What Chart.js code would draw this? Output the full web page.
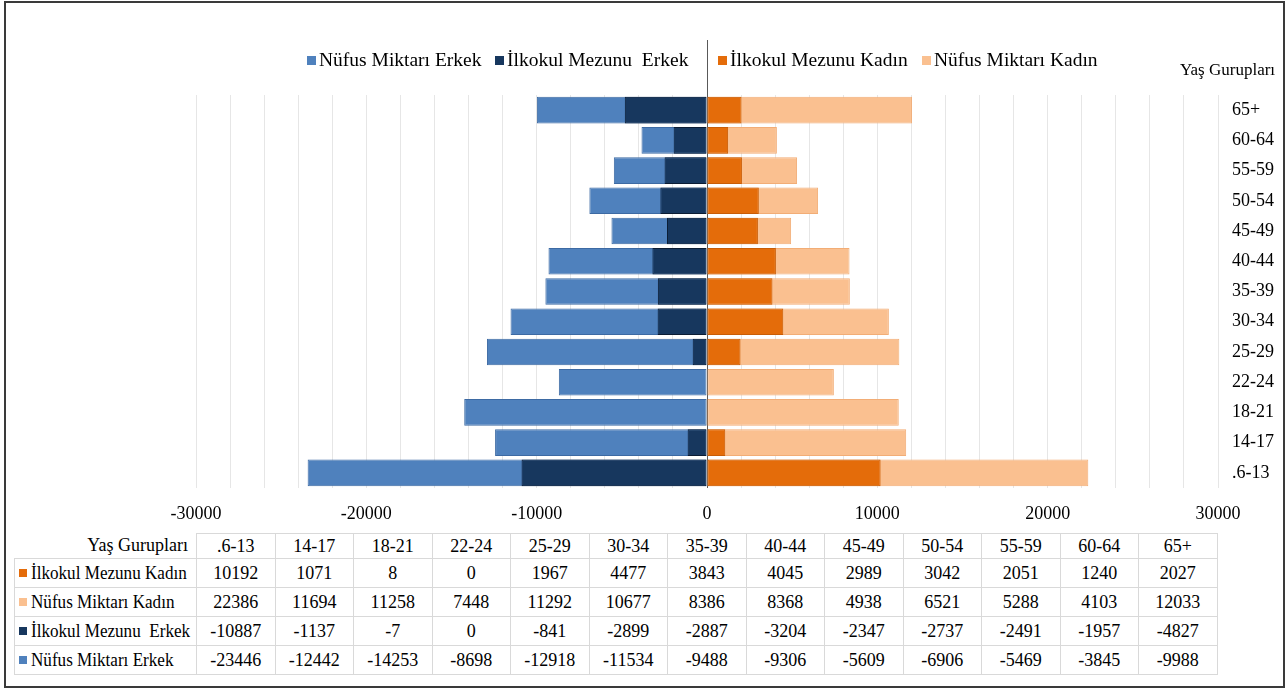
<!DOCTYPE html>
<html>
<head>
<meta charset="utf-8">
<script src="https://cdn.jsdelivr.net/npm/chart.js@4.4.1/dist/chart.umd.min.js"></script>
<style>
  body { margin: 0; background: #fff; font-family: "Liberation Serif", "Times New Roman", Times, "DejaVu Serif", serif; }
  #wrap { position: relative; width: 1288px; height: 689px; overflow: hidden; }
  #frame { position: absolute; left: 4px; top: 1px; width: 1277px; height: 683px; border: 2px solid #3a3a3a; }
  #chartBox { position: absolute; left: 0; top: 0; width: 1288px; height: 530px; }
  .leg { position: absolute; top: 49px; font-size: 19.5px; color: #000; white-space: pre; }
  .leg i { display: inline-block; width: 9px; height: 9px; margin-right: 3px; vertical-align: 1px; }
  #yTitle { position: absolute; left: 1180px; top: 60px; font-size: 17px; }
  #dataTable { position: absolute; left: 14px; top: 533px; width: 1203px; border-collapse: collapse; table-layout: fixed; font-size: 18px; }
  #dataTable td { border: 1px solid #d9d9d9; text-align: center; padding: 0; height: 28px; white-space: nowrap; overflow: hidden; }
  #dataTable tr.head td { height: 24px; }
  #dataTable td.lbl { text-align: left; padding-left: 4px; font-size: 19px; }
  #dataTable td.lbl i { display: inline-block; width: 8px; height: 8px; margin-right: 4px; vertical-align: 2px; }
  #dataTable td.lbl span { display: inline-block; transform: scaleX(0.9); transform-origin: left center; }
  #dataTable td.corner { border: none; text-align: right; padding-right: 8px; }
</style>
</head>
<body>
<div id="wrap">
  <div id="frame"></div>
  <div id="chartBox"><canvas id="pyramid"></canvas></div>
  <div id="legend"></div>
  <div id="yTitle">Yaş Gurupları</div>
  <table id="dataTable"></table>
</div>
<script>
// Age groups and series (as in the data table)
const ageGroups = ['.6-13', '14-17', '18-21', '22-24', '25-29', '30-34', '35-39', '40-44', '45-49', '50-54', '55-59', '60-64', '65+'];
const ilkokulKadin = [10192, 1071, 8, 0, 1967, 4477, 3843, 4045, 2989, 3042, 2051, 1240, 2027];
const nufusKadin = [22386, 11694, 11258, 7448, 11292, 10677, 8386, 8368, 4938, 6521, 5288, 4103, 12033];
const ilkokulErkek = [-10887, -1137, -7, 0, -841, -2899, -2887, -3204, -2347, -2737, -2491, -1957, -4827];
const nufusErkek = [-23446, -12442, -14253, -8698, -12918, -11534, -9488, -9306, -5609, -6906, -5469, -3845, -9988];
const xTicks = [-30000, -20000, -10000, 0, 10000, 20000, 30000];

const serif = '"Liberation Serif", "Times New Roman", Times, "DejaVu Serif", serif';

const colors = {
    nufusErkek: { fill: '#4f81bd', line: '#3d6aa3' },
    ilkokulErkek: { fill: '#17375e', line: '#0b1c33' },
    ilkokulKadin: { fill: '#e46c0a', line: '#c95c05' },
    nufusKadin: { fill: '#fac090', line: '#f2ad76' }
};

// Legend (split around the zero line)
const legendItems = [
    { text: 'Nüfus Miktarı Erkek', c: colors.nufusErkek.fill, x: 307 },
    { text: 'İlkokul Mezunu  Erkek', c: colors.ilkokulErkek.fill, x: 495 },
    { text: 'İlkokul Mezunu Kadın', c: colors.ilkokulKadin.fill, x: 718 },
    { text: 'Nüfus Miktarı Kadın', c: colors.nufusKadin.fill, x: 922 }
];
const legend = document.getElementById('legend');
legendItems.forEach(function(it) {
    const d = document.createElement('div');
    d.className = 'leg';
    d.style.left = it.x + 'px';
    d.innerHTML = '<i style="background:' + it.c + '"></i>' + it.text;
    legend.appendChild(d);
});

// Zero axis line that runs up through the legend
const zeroLine = {
    id: 'zeroLine',
    beforeDatasetsDraw(chart) {
        const x = Math.round(chart.scales.x.getPixelForValue(0)) + 0.5;
        const ctx = chart.ctx;
        ctx.save();
        ctx.strokeStyle = '#595959';
        ctx.lineWidth = 1;
        ctx.beginPath();
        ctx.moveTo(x, 40);
        ctx.lineTo(x, chart.chartArea.bottom);
        ctx.stroke();
        ctx.restore();
    }
};

function bar(label, data, c) {
    return {
        label: label,
        data: data,
        backgroundColor: c.fill,
        borderColor: c.line,
        borderWidth: 1,
        borderSkipped: false,
        grouped: false,
        barPercentage: 0.88,
        categoryPercentage: 1
    };
}

const ctx = document.getElementById('pyramid').getContext('2d');
new Chart(ctx, {
    type: 'bar',
    data: {
        labels: ageGroups,
        datasets: [
            bar('İlkokul Mezunu  Erkek', ilkokulErkek, colors.ilkokulErkek),
            bar('İlkokul Mezunu Kadın', ilkokulKadin, colors.ilkokulKadin),
            bar('Nüfus Miktarı Erkek', nufusErkek, colors.nufusErkek),
            bar('Nüfus Miktarı Kadın', nufusKadin, colors.nufusKadin)
        ]
    },
    options: {
        indexAxis: 'y',
        responsive: true,
        maintainAspectRatio: false,
        animation: false,
        layout: { padding: { left: 196, top: 95, right: 0, bottom: 0 } },
        plugins: {
            legend: { display: false },
            tooltip: { enabled: true }
        },
        scales: {
            x: {
                min: -30000,
                max: 30000,
                border: { display: false },
                grid: {
                    drawTicks: false,
                    color: function(c) { return c.tick && c.tick.value === 0 ? 'rgba(0,0,0,0)' : '#e6e6e6'; }
                },
                ticks: {
                    stepSize: 2000,
                    autoSkip: false,
                    maxRotation: 0,
                    padding: 15,
                    color: '#000',
                    font: { family: serif, size: 18 },
                    callback: function(v) { return xTicks.includes(v) ? String(v) : ''; }
                },
                afterFit: function(s) { s.height = 42; }
            },
            y: {
                position: 'right',
                reverse: true,
                border: { display: false },
                grid: { display: false, drawTicks: false },
                ticks: {
                    padding: 14,
                    color: '#000',
                    font: { family: serif, size: 18 }
                },
                afterFit: function(s) { s.width = 70; }
            }
        }
    },
    plugins: [zeroLine]
});

// Data table under the chart
const rows = [
    { name: 'İlkokul Mezunu Kadın', c: colors.ilkokulKadin.fill, vals: ilkokulKadin },
    { name: 'Nüfus Miktarı Kadın', c: colors.nufusKadin.fill, vals: nufusKadin },
    { name: 'İlkokul Mezunu  Erkek', c: colors.ilkokulErkek.fill, vals: ilkokulErkek },
    { name: 'Nüfus Miktarı Erkek', c: colors.nufusErkek.fill, vals: nufusErkek }
];
const table = document.getElementById('dataTable');
let html = '<colgroup><col style="width:182px">';
ageGroups.forEach(function() { html += '<col style="width:78.5px">'; });
html += '</colgroup><tr class="head"><td class="corner">Yaş Gurupları</td>';
ageGroups.forEach(function(g) { html += '<td>' + g + '</td>'; });
html += '</tr>';
rows.forEach(function(r) {
    html += '<tr><td class="lbl"><i style="background:' + r.c + '"></i><span>' + r.name.replace(/  /g, ' &nbsp;') + '</span></td>';
    r.vals.forEach(function(v) { html += '<td>' + v + '</td>'; });
    html += '</tr>';
});
table.innerHTML = html;
</script>
</body>
</html>
